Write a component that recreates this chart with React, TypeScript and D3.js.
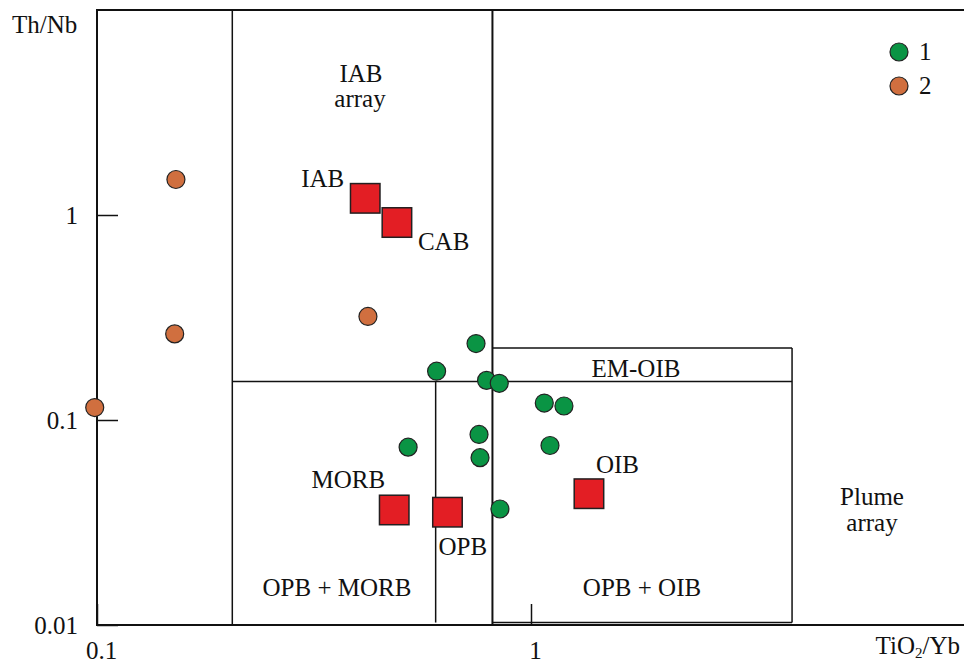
import * as d3 from 'd3';
import { useEffect, useRef } from 'react';

// TiO2/Yb vs Th/Nb discrimination diagram
const group1 = [
  { x: 0.747, y: 0.236 },
  { x: 0.606, y: 0.173 },
  { x: 0.79, y: 0.156 },
  { x: 0.845, y: 0.151 },
  { x: 1.073, y: 0.121 },
  { x: 1.191, y: 0.117 },
  { x: 0.521, y: 0.0737 },
  { x: 0.759, y: 0.085 },
  { x: 1.106, y: 0.0751 },
  { x: 0.763, y: 0.0655 },
  { x: 0.848, y: 0.0368 },
];

const group2 = [
  { x: 0.152, y: 1.49 },
  { x: 0.151, y: 0.263 },
  { x: 0.0988, y: 0.115 },
  { x: 0.421, y: 0.32 },
];

const refNames = ['IAB', 'CAB', 'MORB', 'OPB', 'OIB'];
const refX = [0.415, 0.491, 0.484, 0.642, 1.36];
const refY = [1.206, 0.919, 0.0364, 0.0355, 0.0437];

const xTicks = [0.1, 1];
const yTicks = [0.01, 0.1, 1];

// field boundaries (data units)
const xIab = 0.205;
const xMorb = 0.815;
const xOpb = 0.603;
const xPlume = 3.995;
const yArray = 0.154;
const yEmTop = 0.2246;
const yBoxBottom = 0.01028;

const legendLabels = ['1', '2'];

export default function App() {
  const ref = useRef<SVGSVGElement>(null);

  useEffect(() => {
    const svg = d3.select(ref.current);
    svg.selectAll('*').remove();

    const font = 'Liberation Serif, Times New Roman, serif';
    const x = d3.scaleLog().domain([0.1, 10]).range([97, 965]);
    const y = d3.scaleLog().domain([0.01, 10]).range([625, 10]);

    const g = svg.append('g').style('font-family', font);

    // frame (open on the right, runs off the page)
    g.append('path')
      .attr('d', `M${x(10) + 2},${y(10)}H${x(0.1)}V${y(0.01)}H${x(10) + 2}`)
      .attr('fill', 'none')
      .attr('stroke', '#111')
      .attr('stroke-width', 2);

    const line = (x1: number, y1: number, x2: number, y2: number, w = 1.5) =>
      g.append('line')
        .attr('x1', x(x1)).attr('y1', y(y1))
        .attr('x2', x(x2)).attr('y2', y(y2))
        .attr('stroke', '#111')
        .attr('stroke-width', w);

    line(xIab, 10, xIab, 0.01);
    line(xMorb, 10, xMorb, 0.01, 2);
    line(xIab, yArray, xPlume, yArray);
    line(xOpb, yArray, xOpb, yBoxBottom);
    // EM-OIB / OIB box
    line(xMorb, yEmTop, xPlume, yEmTop);
    line(xPlume, yEmTop, xPlume, yBoxBottom);
    line(xMorb, yBoxBottom, xPlume, yBoxBottom);

    // axes
    const yAxis = g.append('g')
      .attr('transform', `translate(${x(0.1)},0)`)
      .call(d3.axisLeft(y).tickValues(yTicks).tickSize(-21).tickSizeOuter(0)
        .tickPadding(19).tickFormat(d3.format('')));
    const xAxis = g.append('g')
      .attr('transform', `translate(0,${y(0.01)})`)
      .call(d3.axisBottom(x).tickValues(xTicks).tickSize(-21).tickSizeOuter(0)
        .tickPadding(16).tickFormat(d3.format('')));
    [yAxis, xAxis].forEach(a => {
      a.select('.domain').remove();
      a.selectAll('line').attr('stroke', '#111').attr('stroke-width', 1.5);
      a.selectAll('text').attr('fill', '#111').style('font-size', '25px').style('font-family', font);
    });
    xAxis.selectAll('text').attr('dx', 4);

    // axis titles
    g.append('text').attr('x', 12).attr('y', 33).style('font-size', '25px').attr('fill', '#111').text('Th/Nb');
    const xt = g.append('text').attr('x', 960).attr('y', 654).attr('text-anchor', 'end')
      .style('font-size', '25px').attr('fill', '#111');
    xt.append('tspan').text('TiO');
    xt.append('tspan').attr('dy', 4).style('font-size', '15px').text('2');
    xt.append('tspan').attr('dy', -4).text('/Yb');

    // field labels
    const fieldText = [
      { t: 'IAB', px: 361, py: 82 },
      { t: 'array', px: 360, py: 107 },
      { t: 'EM-OIB', px: 636, py: 377 },
      { t: 'Plume', px: 872, py: 505 },
      { t: 'array', px: 872, py: 531 },
      { t: 'OPB + MORB', px: 337, py: 596 },
      { t: 'OPB + OIB', px: 642, py: 596 },
    ];
    g.selectAll('text.field').data(fieldText).enter().append('text')
      .attr('class', 'field')
      .attr('x', d => d.px).attr('y', d => d.py)
      .attr('text-anchor', 'middle')
      .style('font-size', '25px')
      .attr('fill', '#111')
      .text(d => d.t);

    // reference compositions
    const refs = refNames.map((n, i) => ({ n, x: refX[i], y: refY[i] }));
    const s = 29.5;
    g.selectAll('rect.ref').data(refs).enter().append('rect')
      .attr('class', 'ref')
      .attr('x', d => x(d.x) - s / 2).attr('y', d => y(d.y) - s / 2)
      .attr('width', s).attr('height', s)
      .attr('fill', '#e31e24').attr('stroke', '#231f20').attr('stroke-width', 1.5);

    const labelPos: Record<string, [number, number, string]> = {
      IAB: [-21, -11, 'end'],
      CAB: [21, 27, 'start'],
      MORB: [-9, -22, 'end'],
      OPB: [-9, 43, 'start'],
      OIB: [7, -21, 'start'],
    };
    g.selectAll('text.ref').data(refs).enter().append('text')
      .attr('class', 'ref')
      .attr('x', d => x(d.x) + labelPos[d.n][0])
      .attr('y', d => y(d.y) + labelPos[d.n][1])
      .attr('text-anchor', d => labelPos[d.n][2])
      .style('font-size', '25px')
      .attr('fill', '#111')
      .text(d => d.n);

    // samples
    const colors = ['#0a9444', '#d06f3f'];
    [group1, group2].forEach((grp, i) => {
      g.append('g').selectAll('circle').data(grp).enter().append('circle')
        .attr('cx', d => x(d.x)).attr('cy', d => y(d.y)).attr('r', 9)
        .attr('fill', colors[i]).attr('stroke', '#222').attr('stroke-width', 1.2);
    });

    // legend
    const lg = g.append('g').attr('transform', 'translate(899,52)');
    legendLabels.forEach((l, i) => {
      lg.append('circle').attr('cx', 0).attr('cy', i * 34).attr('r', 9)
        .attr('fill', colors[i]).attr('stroke', '#222').attr('stroke-width', 1.2);
      lg.append('text').attr('x', 20).attr('y', i * 34 + 8)
        .style('font-size', '25px').attr('fill', '#111').text(l);
    });
  }, []);

  return (
    <svg ref={ref} width={964} height={664}
      style={{ position: 'absolute', left: 0, top: 0, background: '#fff' }} />
  );
}
